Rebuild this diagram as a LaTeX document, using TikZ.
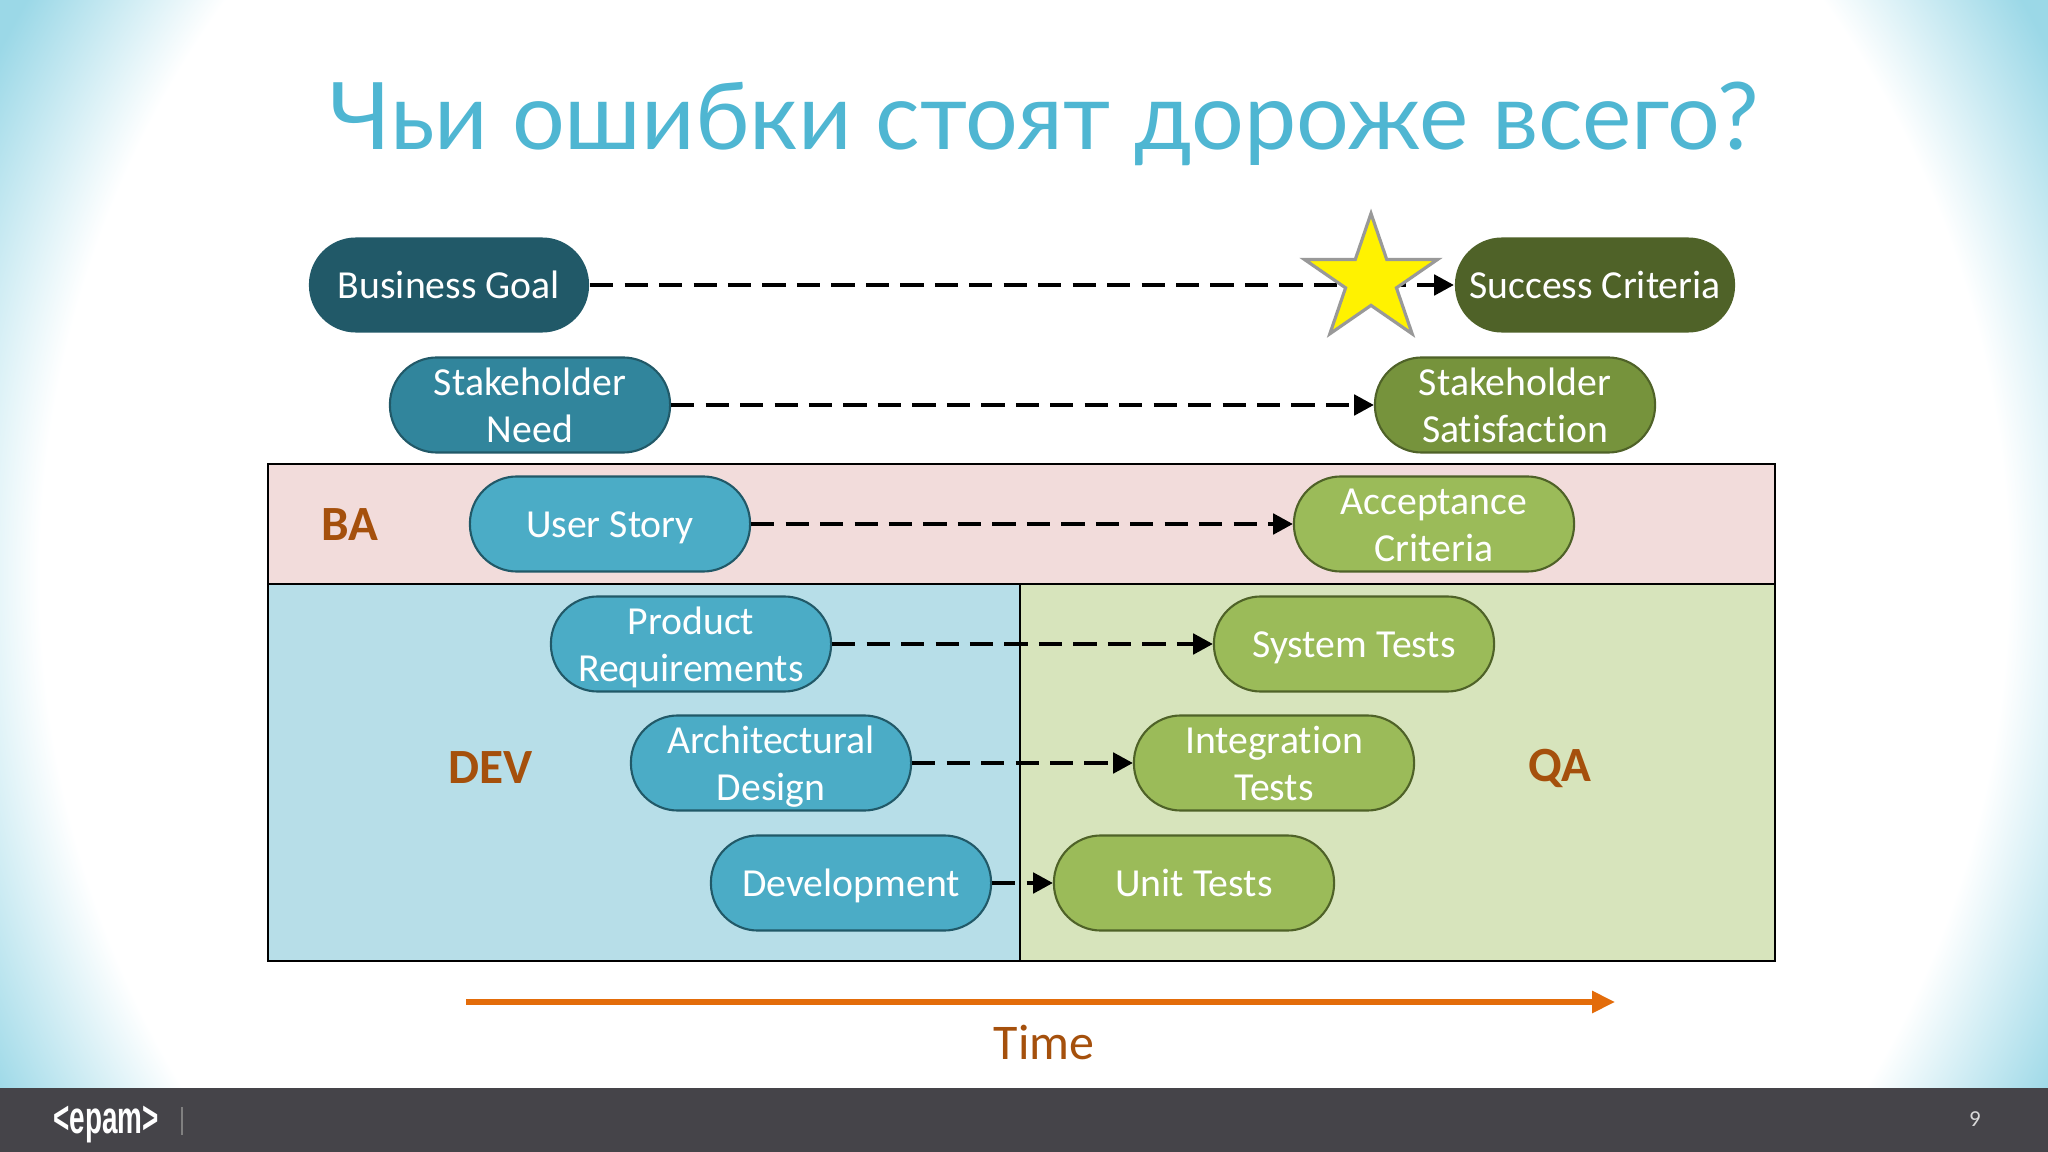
\documentclass[tikz,border=0pt]{standalone}
\usepackage{fontspec}
\setmainfont{Carlito}[Ligatures=NoCommon]
\newfontfamily\titlefont{Lato}
\newfontfamily\logofont{Liberation Sans}
\usetikzlibrary{arrows.meta}
\usetikzlibrary{shapes.geometric}
\definecolor{myglow}{HTML}{9BD8E7}
\definecolor{mytitle}{HTML}{4FB6D2}
\definecolor{mybar}{HTML}{454449}
\definecolor{mypink}{HTML}{F2DCDB}
\definecolor{mysky}{HTML}{B7DEE8}
\definecolor{mysage}{HTML}{D7E4BC}
\definecolor{mybrown}{HTML}{A5500C}
\definecolor{myorange}{HTML}{E36C0A}
\definecolor{tealdark}{HTML}{215968}
\definecolor{tealmid}{HTML}{31859C}
\definecolor{teallight}{HTML}{4BACC6}
\definecolor{olivedark}{HTML}{4F6228}
\definecolor{olivemid}{HTML}{76933C}
\definecolor{olivelight}{HTML}{9BBB59}
\pgfdeclareradialshading{bgglow}{\pgfpoint{0bp}{0bp}}{color(0bp)=(white); color(20.5bp)=(white); color(24bp)=(myglow); color(50bp)=(myglow)}
\newcommand{\pillrow}{\rule[-2.7pt]{0pt}{13.3pt}}
\tikzset{
  pill/.style={rectangle, rounded corners=0.47cm, minimum width=2.8cm, minimum height=0.95cm, inner sep=0pt,
    align=center, text=white, line width=0.6pt, font=\fontsize{11.3}{13.3}\selectfont},
  teal/.style={pill, draw=tealdark, fill=teallight},
  olive/.style={pill, draw=olivedark, fill=olivelight},
  area/.style={draw=black, line width=0.7pt},
  team/.style={text=mybrown, font=\fontsize{14}{16}\selectfont\bfseries},
  trace/.style={dash pattern=on 6.6pt off 3.2pt, line width=1.05pt, -{Triangle[length=5.6pt,width=5.8pt,sep=0pt]}},
}

\begin{document}
\begin{tikzpicture}[x=0.01cm, y=-0.01cm]
\useasboundingbox (0,0) rectangle (2048,1152);

\begin{scope}
\clip (0,0) rectangle (2048,1152);
\shade[shading=bgglow] (-176,-624) rectangle (2224,1776);
\end{scope}

\fill[mybar] (0,1088) rectangle (2048,1152);
\node[text=mytitle, font=\fontsize{26.5}{30}\titlefont] (title) at (1044,124) {Чьи ошибки стоят дороже всего?};

\draw[area, fill=mypink] (268,464) rectangle (1775,584);
\draw[area, fill=mysky] (268,584) rectangle (1020,961);
\draw[area, fill=mysage] (1020,584) rectangle (1775,961);

\node[team] (ba) at (350,525) {BA};
\node[team] (dev) at (491,768) {DEV};
\node[team] (qa) at (1560,768) {QA};

\node[pill, fill=tealdark] (goal) at (449,285) {\pillrow Business Goal};
\node[teal, fill=tealmid] (need) at (530,405) {\pillrow Stakeholder\\\pillrow Need};
\node[teal] (story) at (610,524) {\pillrow User Story};
\node[teal] (req) at (691,644) {\pillrow Product\\\pillrow Requirements};
\node[teal] (design) at (771,763) {\pillrow Architectural\\\pillrow Design};
\node[teal] (code) at (851,883) {\pillrow Development};

\node[pill, fill=olivedark] (success) at (1595,285) {\pillrow Success Criteria};
\node[olive, fill=olivemid] (satisfy) at (1515,405) {\pillrow Stakeholder\\\pillrow Satisfaction};
\node[olive] (accept) at (1434,524) {\pillrow Acceptance\\\pillrow Criteria};
\node[olive] (system) at (1354,644) {\pillrow System Tests};
\node[olive] (integ) at (1274,763) {\pillrow Integration\\\pillrow Tests};
\node[olive] (unit) at (1194,883) {\pillrow Unit Tests};

\draw[trace] (goal) -- (success);
\draw[trace] (need) -- (satisfy);
\draw[trace] (story) -- (accept);
\draw[trace] (req) -- (system);
\draw[trace] (design) -- (integ);
\draw[trace] (code) -- (unit);

\node[star, star points=5, star point ratio=2.62, minimum size=1.4cm, inner sep=0pt, yscale=0.95, transform shape,
  draw=gray!80, line width=0.9pt, fill=yellow] (best) at (1371,280) {};

\coordinate (start) at (466,1002);
\coordinate (stop) at (1615,1002);
\draw[myorange, line width=1.5pt, -{Triangle[length=6.5pt,width=6pt,sep=0pt]}] (start) -- (stop);
\node[text=mybrown, font=\fontsize{14.2}{16}\selectfont] (time) at (1044,1042) {Time};

\node[text=white, font=\fontsize{13}{15}\logofont\bfseries, xscale=0.61, transform shape] (logo) at (106,1125) {<epam>};
\draw[gray, line width=0.3pt] (182,1107) -- (182,1135);
\node[text=white!85!black, font=\fontsize{6.5}{8}\selectfont] (page) at (1975,1119) {9};
\end{tikzpicture}
\end{document}
